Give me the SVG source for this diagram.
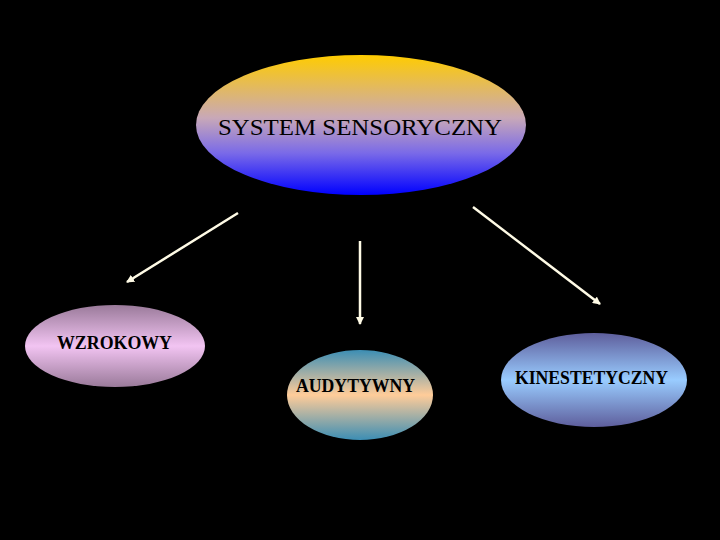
<svg xmlns="http://www.w3.org/2000/svg" width="720" height="540" viewBox="0 0 720 540">
<style>
.lbl{font-family:"Liberation Serif","Times New Roman",serif;fill:#000;}
.b{font-weight:bold;font-size:18px;}
.conn line{stroke:#FFFBE6;stroke-width:2.5;fill:none;}
</style>
<defs>
<linearGradient id="gMain" x1="0" y1="0" x2="0" y2="1">
<stop offset="0" stop-color="#FFCC00"/>
<stop offset="0.45" stop-color="#C8A8B8"/>
<stop offset="0.7" stop-color="#7A6AE8"/>
<stop offset="1" stop-color="#0000FF"/>
</linearGradient>
<linearGradient id="gW" x1="0" y1="0" x2="0" y2="1">
<stop offset="0" stop-color="#9A7A9A"/>
<stop offset="0.5" stop-color="#F2C4F2"/>
<stop offset="1" stop-color="#9A7A9A"/>
</linearGradient>
<linearGradient id="gA" x1="0" y1="0" x2="0" y2="1">
<stop offset="0" stop-color="#3C8EB4"/>
<stop offset="0.5" stop-color="#FFCC99"/>
<stop offset="1" stop-color="#3C8EB4"/>
</linearGradient>
<linearGradient id="gK" x1="0" y1="0" x2="0" y2="1">
<stop offset="0" stop-color="#5E5E9C"/>
<stop offset="0.5" stop-color="#99CCFF"/>
<stop offset="1" stop-color="#5E5E9C"/>
</linearGradient>
<marker id="ah" markerWidth="8" markerHeight="8" refX="7" refY="4" orient="auto" markerUnits="userSpaceOnUse">
<path d="M0,0 L8,4 L0,8 Z" fill="#FFFBE6"/>
</marker>
</defs>
<rect width="720" height="540" fill="#000"/>
<g id="node-system">
<ellipse cx="361" cy="125" rx="165" ry="70" fill="url(#gMain)"/>
<text class="lbl" x="218" y="135" font-size="24" textLength="284" lengthAdjust="spacingAndGlyphs">SYSTEM SENSORYCZNY</text>
</g>
<g id="node-wzrokowy">
<ellipse cx="115" cy="346" rx="90" ry="41" fill="url(#gW)"/>
<text class="lbl b" x="57" y="349" textLength="115" lengthAdjust="spacingAndGlyphs">WZROKOWY</text>
</g>
<g id="node-audytywny">
<ellipse cx="360" cy="395" rx="73" ry="45" fill="url(#gA)"/>
<text class="lbl b" x="296" y="392" textLength="119" lengthAdjust="spacingAndGlyphs">AUDYTYWNY</text>
</g>
<g id="node-kinestetyczny">
<ellipse cx="594" cy="380" rx="93" ry="47" fill="url(#gK)"/>
<text class="lbl b" x="515" y="384" textLength="153" lengthAdjust="spacingAndGlyphs">KINESTETYCZNY</text>
</g>
<g id="connectors" class="conn">
<line x1="238" y1="213" x2="127" y2="282" marker-end="url(#ah)"/>
<line x1="360" y1="241" x2="360" y2="324" marker-end="url(#ah)"/>
<line x1="473" y1="207" x2="600" y2="304" marker-end="url(#ah)"/>
</g>
</svg>
